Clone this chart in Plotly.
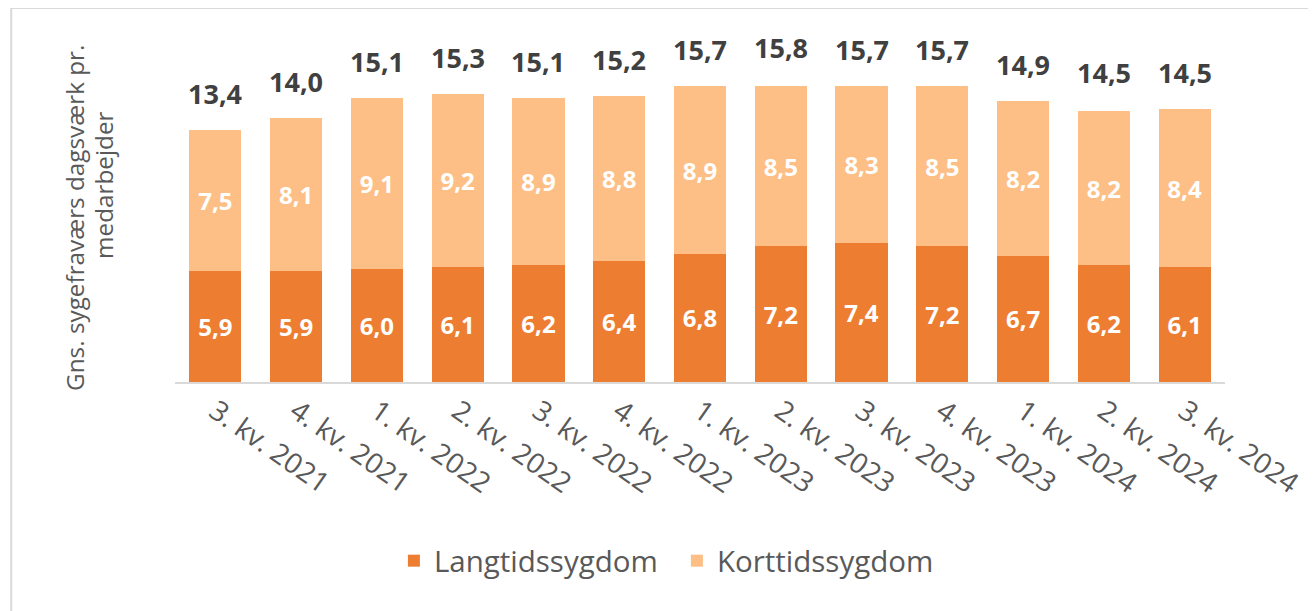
import plotly.graph_objects as go

categories = ["3. kv. 2021", "4. kv. 2021", "1. kv. 2022", "2. kv. 2022", "3. kv. 2022",
              "4. kv. 2022", "1. kv. 2023", "2. kv. 2023", "3. kv. 2023", "4. kv. 2023",
              "1. kv. 2024", "2. kv. 2024", "3. kv. 2024"]
langtid = [5.9, 5.9, 6.0, 6.1, 6.2, 6.4, 6.8, 7.2, 7.4, 7.2, 6.7, 6.2, 6.1]
korttid = [7.5, 8.1, 9.1, 9.2, 8.9, 8.8, 8.9, 8.5, 8.3, 8.5, 8.2, 8.2, 8.4]
totals = [13.4, 14.0, 15.1, 15.3, 15.1, 15.2, 15.7, 15.8, 15.7, 15.7, 14.9, 14.5, 14.5]
ytitle_lines = ["Gns. sygefraværs dagsværk pr.", "medarbejder"]

FONT = "Open Sans"
DARK = "#ED7D31"
LIGHT = "#FDBF86"

fig = go.Figure()
fig.add_trace(go.Bar(
    x=categories, y=langtid, name="Langtidssygdom", marker_color=DARK,
    marker_line_width=0,
    texttemplate="%{y:.1f}", textposition="inside", insidetextanchor="middle",
    textfont=dict(family=FONT, size=24, color="white", weight="bold"),
    textangle=0,
))
fig.add_trace(go.Bar(
    x=categories, y=korttid, name="Korttidssygdom", marker_color=LIGHT,
    marker_line_width=0,
    texttemplate="%{y:.1f}", textposition="inside", insidetextanchor="middle",
    textfont=dict(family=FONT, size=24, color="white", weight="bold"),
    textangle=0,
))

for c, t in zip(categories, totals):
    fig.add_annotation(
        x=c, y=t, text=f"{t:.1f}".replace(".", ","), showarrow=False,
        yanchor="bottom", yshift=16,
        font=dict(family=FONT, size=27, color="#404040", weight="bold"),
    )

for txt, xp, yp in zip(ytitle_lines, [-0.0952, -0.0686], [0.484, 0.581]):
    fig.add_annotation(
        xref="paper", yref="paper", x=xp, y=yp,
        text=txt, textangle=-90,
        showarrow=False, xanchor="center", yanchor="middle",
        font=dict(family=FONT, size=24.3, color="#595959"),
    )

fig.add_shape(
    type="rect", xref="paper", yref="paper",
    x0=-0.156, x1=1.1, y0=-0.75, y1=1.103,
    line=dict(color="#D9D9D9", width=2), fillcolor="rgba(0,0,0,0)", layer="below",
)

fig.update_layout(
    barmode="stack",
    bargap=0.355,
    separators=",.",
    width=1308, height=603,
    margin=dict(l=167, r=91, t=35, b=229, autoexpand=False),
    plot_bgcolor="white", paper_bgcolor="white",
    font=dict(family=FONT, color="#595959"),
    showlegend=True,
    legend=dict(
        orientation="h", x=0.478, y=-0.528, xanchor="center", yanchor="middle",
        font=dict(family=FONT, size=29.5, color="#595959"),
        traceorder="normal", itemsizing="constant",
        entrywidth=238, entrywidthmode="pixels",
    ),
    uniformtext=dict(mode=False),
)
fig.update_xaxes(
    showline=True, linecolor="#D9D9D9", linewidth=2,
    tickangle=35, ticks="", showgrid=False, automargin=False,
    tickfont=dict(family=FONT, size=28, color="#595959"),
)
fig.update_yaxes(
    range=[0, 18], showticklabels=False, showgrid=False, zeroline=False,
    showline=False, ticks="", automargin=False,
)

fig.write_html("out.html")
